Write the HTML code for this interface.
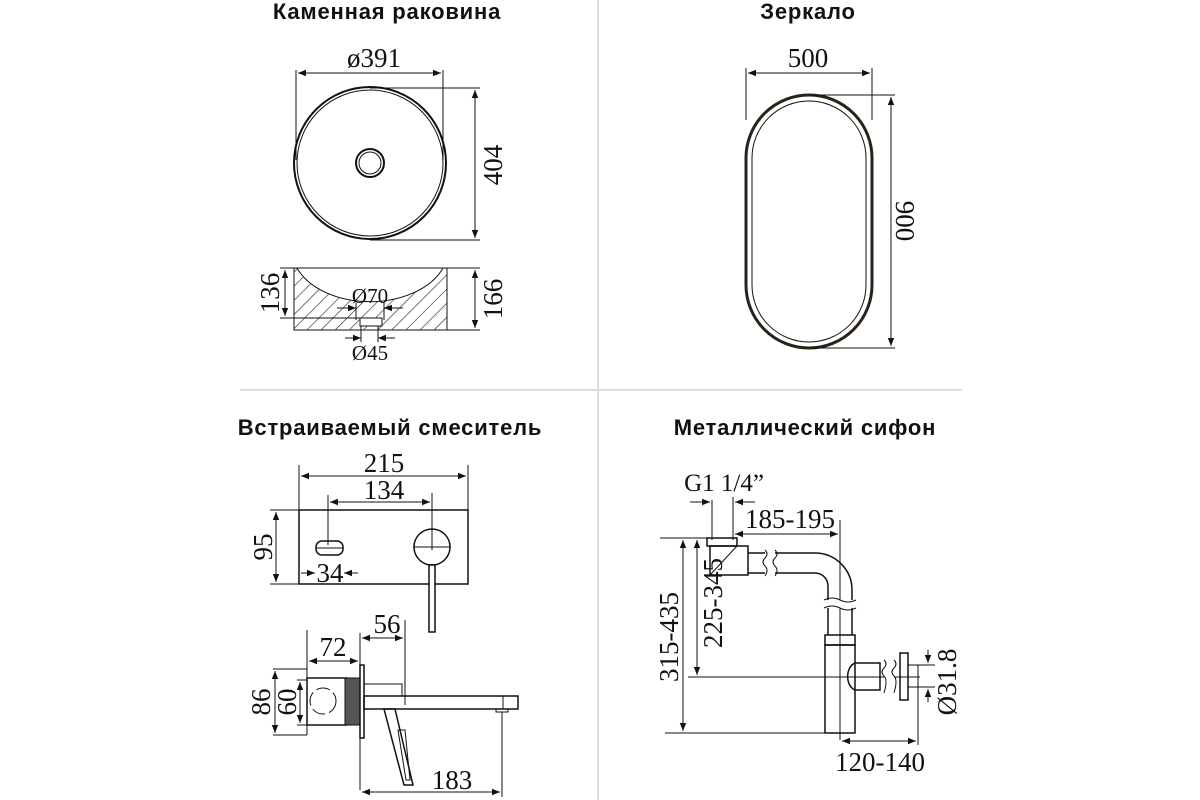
<!DOCTYPE html>
<html><head><meta charset="utf-8"><style>
html,body{margin:0;padding:0;background:#fff;width:1200px;height:800px;overflow:hidden}
svg{display:block}
.t{font-family:"Liberation Sans","DejaVu Sans",sans-serif;font-weight:bold;font-size:22px;letter-spacing:0.8px;fill:#111}
.d{font-family:"Liberation Serif",serif;font-size:27px;fill:#111}
</style></head><body>
<svg width="1200" height="800" viewBox="0 0 1200 800" xmlns="http://www.w3.org/2000/svg">
<defs>
<marker id="a" viewBox="0 0 10 10" refX="10" refY="5" markerWidth="11" markerHeight="8" markerUnits="userSpaceOnUse" orient="auto-start-reverse"><path d="M0,1 L10,5 L0,9 Z" fill="#111"/></marker>
<pattern id="h" width="10" height="10" patternUnits="userSpaceOnUse" patternTransform="rotate(45)"><line x1="0" y1="0" x2="0" y2="10" stroke="#222" stroke-width="1.2"/></pattern>
</defs>
<line x1="598" y1="0" x2="598" y2="800" stroke="#ddd" stroke-width="2"/>
<line x1="240" y1="390" x2="962" y2="390" stroke="#ddd" stroke-width="2"/>

<text class="t" x="387" y="19" text-anchor="middle">Каменная раковина</text>
<text class="t" x="808" y="19" text-anchor="middle">Зеркало</text>
<text class="t" x="390" y="435" text-anchor="middle">Встраиваемый смеситель</text>
<text class="t" x="805" y="435" text-anchor="middle">Металлический сифон</text>

<g stroke="#111" fill="none" stroke-width="1">
<circle cx="370" cy="163" r="76" stroke-width="2"/>
<circle cx="370" cy="163" r="73"/>
<circle cx="370" cy="163" r="14" stroke-width="2"/>
<circle cx="370" cy="163" r="11"/>
<line x1="296" y1="70" x2="296" y2="160"/><line x1="443" y1="70" x2="443" y2="160"/>
<line x1="298" y1="73" x2="441" y2="73" marker-start="url(#a)" marker-end="url(#a)"/>
<line x1="370" y1="88" x2="480" y2="88"/><line x1="370" y1="240" x2="480" y2="240"/>
<line x1="475" y1="90" x2="475" y2="238" marker-start="url(#a)" marker-end="url(#a)"/>
<path d="M294,268 L297,268 A78,52 0 0 0 443,268 L447,268 L447,330 L294,330 Z" fill="url(#h)"/>
<line x1="294" y1="268" x2="447" y2="268"/>
<rect x="360" y="318" width="22" height="8" fill="#fff"/>
<line x1="280" y1="268" x2="294" y2="268"/><line x1="280" y1="318" x2="360" y2="318"/>
<line x1="285" y1="270" x2="285" y2="316" marker-start="url(#a)" marker-end="url(#a)"/>
<line x1="447" y1="268" x2="480" y2="268"/><line x1="447" y1="330" x2="480" y2="330"/>
<line x1="475" y1="270" x2="475" y2="328" marker-start="url(#a)" marker-end="url(#a)"/>
<line x1="337" y1="308" x2="356" y2="308" marker-end="url(#a)"/><line x1="403" y1="308" x2="384" y2="308" marker-end="url(#a)"/>
<line x1="356" y1="303" x2="356" y2="320"/><line x1="384" y1="303" x2="384" y2="320"/>
<line x1="345" y1="338" x2="361" y2="338" marker-end="url(#a)"/><line x1="395" y1="338" x2="378" y2="338" marker-end="url(#a)"/>
<line x1="361" y1="326" x2="361" y2="342"/><line x1="378" y1="326" x2="378" y2="342"/>

<rect x="746" y="95" width="126" height="253" rx="63" stroke-width="3" stroke="#2a2218"/>
<rect x="752" y="101" width="114" height="241" rx="57"/>
<line x1="746" y1="68" x2="746" y2="120"/><line x1="872" y1="68" x2="872" y2="120"/>
<line x1="748" y1="73" x2="870" y2="73" marker-start="url(#a)" marker-end="url(#a)"/>
<line x1="810" y1="95" x2="895" y2="95"/><line x1="810" y1="348" x2="895" y2="348"/>
<line x1="891" y1="97" x2="891" y2="346" marker-start="url(#a)" marker-end="url(#a)"/>

<rect x="299" y="510" width="169" height="74" stroke-width="1.5"/>
<line x1="299" y1="465" x2="299" y2="510"/><line x1="468" y1="465" x2="468" y2="510"/>
<line x1="301" y1="476" x2="466" y2="476" marker-start="url(#a)" marker-end="url(#a)"/>
<line x1="328" y1="495" x2="328" y2="545"/><line x1="432" y1="493" x2="432" y2="550"/>
<line x1="330" y1="502" x2="430" y2="502" marker-start="url(#a)" marker-end="url(#a)"/>
<circle cx="432" cy="547" r="18" stroke-width="1.5"/>
<line x1="413" y1="547" x2="451" y2="547"/>
<rect x="429" y="565" width="6" height="67" fill="#fff" stroke-width="1.5"/>
<rect x="316" y="541" width="27" height="14" rx="6" stroke-width="1.5"/>
<line x1="316" y1="548" x2="343" y2="548"/>
<line x1="270" y1="510" x2="299" y2="510"/><line x1="270" y1="584" x2="299" y2="584"/>
<line x1="276" y1="512" x2="276" y2="582" marker-start="url(#a)" marker-end="url(#a)"/>
<line x1="301" y1="573" x2="315" y2="573" marker-end="url(#a)"/><line x1="358" y1="573" x2="344" y2="573" marker-end="url(#a)"/>
<line x1="307" y1="630" x2="307" y2="735"/><line x1="360" y1="633" x2="360" y2="790"/><line x1="405" y1="620" x2="405" y2="705"/>
<line x1="309" y1="661" x2="358" y2="661" marker-start="url(#a)" marker-end="url(#a)"/>
<line x1="362" y1="638" x2="403" y2="638" marker-start="url(#a)" marker-end="url(#a)"/>
<rect x="307" y="678" width="40" height="47" stroke-width="1.5"/>
<circle cx="323" cy="701" r="13" stroke-dasharray="14 4"/>
<rect x="345" y="678" width="15" height="47" fill="#555" stroke-width="1"/>
<rect x="360" y="665" width="4" height="73" stroke-width="1.5"/>
<rect x="364" y="684" width="38" height="12"/>
<rect x="364" y="696" width="154" height="13" stroke-width="1.5"/>
<line x1="503" y1="696" x2="503" y2="709"/>
<rect x="496" y="709" width="12" height="3"/>
<path d="M384,709 L395,709 L413,785 L404,785 Z" stroke-width="1.5"/>
<path d="M398,730 L405,730 L410,780 L406,780 Z"/>
<line x1="273" y1="669" x2="307" y2="669"/><line x1="273" y1="735" x2="307" y2="735"/>
<line x1="297" y1="680" x2="307" y2="680"/><line x1="297" y1="725" x2="307" y2="725"/>
<line x1="275" y1="671" x2="275" y2="733" marker-start="url(#a)" marker-end="url(#a)"/>
<line x1="300" y1="682" x2="300" y2="723" marker-start="url(#a)" marker-end="url(#a)"/>
<line x1="502" y1="712" x2="502" y2="797"/>
<line x1="362" y1="792" x2="500" y2="792" marker-start="url(#a)" marker-end="url(#a)"/>

<line x1="690" y1="502" x2="710" y2="502" marker-end="url(#a)"/><line x1="755" y1="502" x2="735" y2="502" marker-end="url(#a)"/>
<line x1="712" y1="500" x2="712" y2="540"/><line x1="733" y1="497" x2="733" y2="540"/>
<line x1="735" y1="534" x2="838" y2="534" marker-start="url(#a)" marker-end="url(#a)"/>
<line x1="840" y1="520" x2="840" y2="740"/>
<rect x="707" y="538" width="30" height="8" stroke-width="1.5"/>
<rect x="710" y="546" width="38" height="29" stroke-width="1.5"/>
<line x1="710" y1="575" x2="737" y2="546"/>
<path d="M748,553 L815,553 A37,37 0 0 1 852,590 L852,635" stroke-width="1.5"/>
<path d="M748,573 L815,573 A13,13 0 0 1 828,586 L828,635" stroke-width="1.5"/>
<rect x="825" y="635" width="30" height="10" stroke-width="1.5"/>
<rect x="825" y="645" width="30" height="88" stroke-width="1.5"/>
<path d="M855,663 L880,663 L880,690 L855,690 A10,14 0 0 1 855,663" stroke-width="1.5"/>
<rect x="900" y="653" width="8" height="47" stroke-width="1.5"/>
<rect x="908" y="665" width="10" height="22"/>
<line x1="660" y1="538" x2="707" y2="538"/>
<line x1="683" y1="540" x2="683" y2="731" marker-start="url(#a)" marker-end="url(#a)"/>
<line x1="697" y1="540" x2="697" y2="675" marker-start="url(#a)" marker-end="url(#a)"/>
<line x1="688" y1="677" x2="920" y2="677"/>
<line x1="665" y1="733" x2="825" y2="733"/>
<line x1="918" y1="687" x2="918" y2="745"/>
<line x1="842" y1="741" x2="916" y2="741" marker-start="url(#a)" marker-end="url(#a)"/>
<line x1="918" y1="665" x2="935" y2="665"/><line x1="918" y1="687" x2="935" y2="687"/>
<line x1="928" y1="650" x2="928" y2="663" marker-end="url(#a)"/><line x1="928" y1="702" x2="928" y2="689" marker-end="url(#a)"/>
</g>
<g fill="#fff" stroke="none">
<rect x="765" y="550" width="10" height="26"/><rect x="824" y="600" width="30" height="8"/><rect x="884" y="660" width="10" height="33"/>
</g>
<g stroke="#111" stroke-width="1" fill="none">
<path d="M765,550 q4,4 0,8 q-4,4 0,8 q4,4 0,10"/><path d="M775,550 q4,4 0,8 q-4,4 0,8 q4,4 0,10"/>
<path d="M824,600 q8,-4 16,0 q8,4 16,0"/><path d="M824,608 q8,-4 16,0 q8,4 16,0"/>
<path d="M884,660 q4,4 0,8 q-4,4 0,8 q4,4 0,17"/><path d="M894,660 q4,4 0,8 q-4,4 0,8 q4,4 0,17"/>
</g>

<g class="d">
<text x="374" y="67" text-anchor="middle">ø391</text>
<text transform="translate(502,165) rotate(-90)" text-anchor="middle">404</text>
<text transform="translate(279,293) rotate(-90)" text-anchor="middle">136</text>
<text transform="translate(502,299) rotate(-90)" text-anchor="middle">166</text>
<text x="370" y="303" text-anchor="middle" style="font-size:21px">Ø70</text>
<text x="370" y="360" text-anchor="middle" style="font-size:21px">Ø45</text>
<text x="808" y="67" text-anchor="middle">500</text>
<text transform="translate(896,221) rotate(90)" text-anchor="middle">900</text>
<text x="384" y="472" text-anchor="middle">215</text>
<text x="384" y="499" text-anchor="middle">134</text>
<text transform="translate(272,547) rotate(-90)" text-anchor="middle">95</text>
<text x="330" y="582" text-anchor="middle">34</text>
<text x="333" y="656" text-anchor="middle">72</text>
<text x="387" y="633" text-anchor="middle">56</text>
<text transform="translate(270,702) rotate(-90)" text-anchor="middle">86</text>
<text transform="translate(296,702) rotate(-90)" text-anchor="middle">60</text>
<text x="452" y="789" text-anchor="middle">183</text>
<text x="724" y="491" text-anchor="middle" style="font-size:25px">G1 1/4”</text>
<text x="790" y="528" text-anchor="middle">185-195</text>
<text transform="translate(678,637) rotate(-90)" text-anchor="middle">315-435</text>
<text transform="translate(722,603) rotate(-90)" text-anchor="middle">225-345</text>
<text x="880" y="771" text-anchor="middle">120-140</text>
<text transform="translate(956,682) rotate(-90)" text-anchor="middle">Ø31.8</text>
</g>
</svg>
</body></html>
